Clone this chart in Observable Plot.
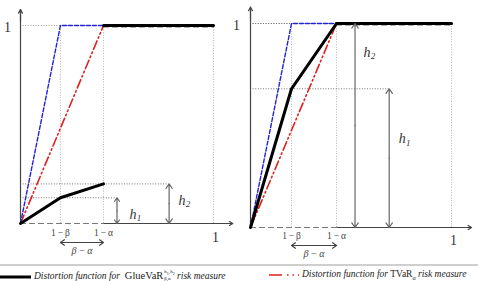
<!DOCTYPE html>
<html>
<head>
<meta charset="utf-8">
<script src="https://cdn.jsdelivr.net/npm/d3@7"></script>
<script src="https://cdn.jsdelivr.net/npm/@observablehq/plot@0.6"></script>
<style>
  body { margin: 0; background: #fff; }
  #wrap { position: relative; width: 478px; height: 281px; overflow: hidden; font-family: "Liberation Serif", serif; background: #fff; }
  #left, #right { position: absolute; top: 0; }
  #left { left: 0; }
  #right { left: 225px; }
  #sep { position: absolute; left: 0; top: 264px; width: 478px; height: 0; border-top: 2px solid #cfcfcf; }
  .item { position: absolute; top: 269px; white-space: nowrap; font-size: 9.5px; color: #222; line-height: 11px; }
  .item svg { vertical-align: middle; margin-right: 3px; }
  .item i { font-style: italic; }
  .glue { font-size: 10.5px; }
  .ss { display: inline-block; vertical-align: -1px; line-height: 5px; font-size: 5px; margin-left: 1px; }
</style>
</head>
<body>
<div id="wrap">
  <div id="left"></div>
  <div id="right"></div>
  <div id="sep"></div>
  <div class="item" style="left:0px">
    <svg width="31" height="6"><line x1="0" x2="31" y1="3" y2="3" stroke="#000" stroke-width="3"/></svg><i>Distortion function for</i>&nbsp; <span class="glue">GlueVaR</span><span class="ss"><span>h<sub>1</sub>,h<sub>2</sub></span><br><span>β,α</span></span> <i>risk measure</i>
  </div>
  <div class="item" style="left:269px">
    <svg width="30" height="6"><line x1="0" x2="30" y1="3" y2="3" stroke="#e0201c" stroke-width="1.6" stroke-dasharray="13,5,1.5,4,1.5,4"/></svg><i>Distortion function for</i> <span>TVaR<sub style="font-size:6px">α</sub></span> <i>risk measure</i>
  </div>
</div>
<script>
// ---- data (two panels: left, right) ----
const panelNames   = ["left", "right"];
const oneMinusBeta  = [0.207, 0.204];   // 1 - β
const oneMinusAlpha = [0.430, 0.428];   // 1 - α
const h1Values      = [0.13, 0.68];     // GlueVaR value at 1 - β
const h2Values      = [0.20, 1.00];     // GlueVaR value at 1 - α
const h1ArrowAt     = [0.50, 0.69];     // x where the h1 arrow is drawn
const h2ArrowAt     = [0.77, 0.52];     // x where the h2 arrow is drawn
const xTickLabels   = ["1\u2009\u2212\u2009\u03b2", "1\u2009\u2212\u2009\u03b1", "1"];
const yTickLabels   = ["1"];
const spanLabel     = "\u03b2\u2009\u2212\u2009\u03b1";

// ---- per-panel layout (pixels) ----
const layout = [
  { width: 240, xr: [20, 213], yr: [223, 25], oneDx: -13, xOneDy: 14, tickDy: 9, spanDy: 19, spanTextDy: 27, h1Lab: [16, 0.35], h2Lab: [13, 0.58] },
  { width: 253, xr: [25, 226], yr: [227, 23], oneDx: -14, xOneDy: 13, tickDy: 8, spanDy: 18, spanTextDy: 26, h1Lab: [13, 0.64], h2Lab: [12, 0.86] }
];

const xAxisEnd = 1.10, yAxisEnd = 1.08;
const gridColor = "#9a9a9a", axisColor = "#444";
const serif = "Liberation Serif, Times New Roman, serif";

function doubleArrow(x1, y1, x2, y2) {
  const mx = (x1 + x2) / 2, my = (y1 + y2) / 2;
  return [{x1: mx, y1: my, x2: x1, y2: y1}, {x1: mx, y1: my, x2: x2, y2: y2}];
}

function panel(i) {
  const L = layout[i];
  const b = oneMinusBeta[i], a = oneMinusAlpha[i];
  const h1 = h1Values[i], h2 = h2Values[i];
  // GlueVaR: continuous part up to 1-α, then jump to 1
  const glue = [
    {x: 0, y: 0, k: 0}, {x: b, y: h1, k: 0}, {x: a, y: h2, k: 0},
    {x: a, y: 1, k: 1}, {x: 1, y: 1, k: 1}
  ];
  const tvar = [{x: 0, y: 0}, {x: a, y: 1}, {x: 1, y: 1}];
  const varLow = [{x: 0, y: 0}, {x: a, y: 0}];
  const varHigh = [{x: a, y: 1}, {x: 1, y: 1}];
  const blue = [{x: 0, y: 0}, {x: b, y: 1}, {x: a, y: 1}];
  const hLines = [{y: h1, x2: h1ArrowAt[i]}, {y: h2, x2: h2ArrowAt[i]}];
  const hArrows = [...doubleArrow(h1ArrowAt[i], 0, h1ArrowAt[i], h1), ...doubleArrow(h2ArrowAt[i], 0, h2ArrowAt[i], h2)];
  const spanArrows = doubleArrow(b, 0, a, 0);
  const ticks = [{x: b, t: xTickLabels[0]}, {x: a, t: xTickLabels[1]}];
  const hLabels = [
    {x: h1ArrowAt[i], y: h1 * L.h1Lab[1], dx: L.h1Lab[0], s: "1"},
    {x: h2ArrowAt[i], y: h2 * L.h2Lab[1], dx: L.h2Lab[0], s: "2"}
  ];
  const axisHeads = [
    {x1: xAxisEnd - 0.06, y1: 0, x2: xAxisEnd, y2: 0},
    {x1: 0, y1: yAxisEnd - 0.06, x2: 0, y2: yAxisEnd}
  ];
  const marks = [
    // dotted guides
    Plot.ruleX([b, a, 1], {x: d => d, y1: 0, y2: 1, stroke: "#b5b5b5", strokeDasharray: "1,1.6", strokeWidth: 1}),
    Plot.ruleY([1], {y: d => d, x1: 0, x2: 1, stroke: gridColor, strokeDasharray: "1,1.6"}),
    Plot.ruleY(hLines, {y: "y", x1: 0, x2: "x2", stroke: "#777", strokeDasharray: "1,1.6"}),
    // axes
    Plot.ruleY([0], {y: d => d, x1: a, x2: xAxisEnd, stroke: axisColor, strokeWidth: 1.2}),
    Plot.ruleX([0], {x: d => d, y1: 0, y2: yAxisEnd, stroke: axisColor, strokeWidth: 1.2}),
    Plot.arrow(axisHeads, {x1: "x1", y1: "y1", x2: "x2", y2: "y2", stroke: axisColor, strokeWidth: 1.2, headLength: 8, headAngle: 60}),
    // VaR distortion (dashed grey)
    Plot.line(varLow, {x: "x", y: "y", stroke: "#777", strokeWidth: 1.2, strokeDasharray: "5,4"}),
    Plot.line(varHigh, {x: "x", y: "y", stroke: "#666", strokeWidth: 1.2, strokeDasharray: "5,4", dy: 1.5}),
    // TVaR (red dash-dot)
    Plot.line(tvar, {x: "x", y: "y", stroke: "#e0201c", strokeWidth: 1.6, strokeDasharray: "9,3,1.5,3,1.5,3"}),
    // blue dashed
    Plot.line(blue, {x: "x", y: "y", stroke: "#2323d8", strokeWidth: 1.4, strokeDasharray: "4,2"}),
    // GlueVaR (black thick)
    Plot.line(glue, {x: "x", y: "y", z: "k", stroke: "#000", strokeWidth: 3, strokeLinejoin: "miter"}),
    // h arrows
    Plot.arrow(hArrows, {x1: "x1", y1: "y1", x2: "x2", y2: "y2", stroke: "#666", strokeWidth: 1.2, headLength: 7, headAngle: 70}),
    // beta-alpha span arrow
    Plot.arrow(spanArrows, {x1: "x1", y1: "y1", x2: "x2", y2: "y2", dy: L.spanDy, stroke: "#444", strokeWidth: 1.2, headLength: 6, headAngle: 70}),
    Plot.text([spanLabel], {x: (b + a) / 2, y: 0, text: d => d, dy: L.spanTextDy, fontSize: 10, fontFamily: serif, fontStyle: "italic", fill: "#444"}),
    // tick labels
    Plot.text(ticks, {x: "x", y: 0, text: "t", dy: L.tickDy, fontSize: 9.5, fontFamily: serif, fill: "#444"}),
    Plot.text([xTickLabels[2]], {x: 1, y: 0, text: d => d, dy: L.xOneDy, dx: 2, fontSize: 14, fontFamily: serif, fill: "#333"}),
    Plot.text(yTickLabels, {x: 0, y: 1, text: d => d, dx: L.oneDx, dy: 2, fontSize: 14, fontFamily: serif, fill: "#333"})
  ];
  for (const hl of hLabels) {
    marks.push(Plot.text([hl], {x: "x", y: "y", text: () => "h", dx: hl.dx, fontSize: 14, fontFamily: serif, fontStyle: "italic", fill: "#333"}));
    marks.push(Plot.text([hl], {x: "x", y: "y", text: "s", dx: hl.dx + 6, dy: 4, fontSize: 9, fontFamily: serif, fontStyle: "italic", fill: "#333"}));
  }
  return Plot.plot({
    width: L.width,
    height: 262,
    x: {domain: [0, 1], range: L.xr, axis: null},
    y: {domain: [0, 1], range: L.yr, axis: null},
    style: {background: "transparent", overflow: "visible"},
    marks
  });
}

document.getElementById("left").appendChild(panel(0));
document.getElementById("right").appendChild(panel(1));
</script>
</body>
</html>
